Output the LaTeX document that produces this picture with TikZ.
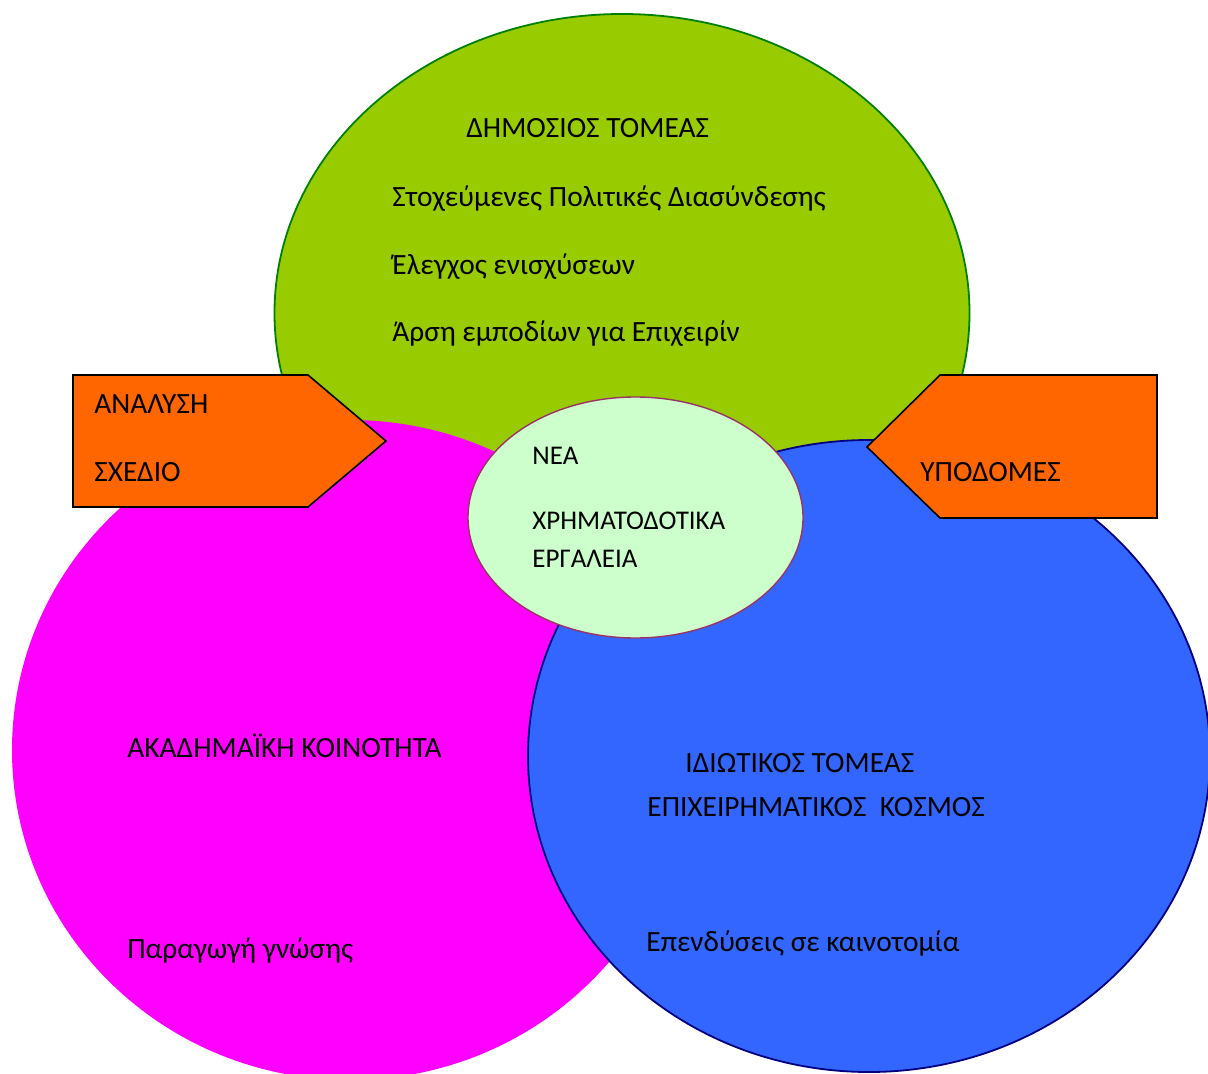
\documentclass[tikz,border=0pt]{standalone}
\usepackage{fontspec}
\setmainfont{Carlito}
\usepackage{tikz}
\usetikzlibrary{shapes.geometric, positioning}
\definecolor{publicgreen}{HTML}{99CC00}
\definecolor{publicedge}{HTML}{008000}
\definecolor{academia}{HTML}{FF00FF}
\definecolor{private}{HTML}{3366FF}
\definecolor{privateedge}{HTML}{000080}
\definecolor{fundfill}{HTML}{CCFFCC}
\definecolor{fundedge}{HTML}{993366}
\definecolor{taborange}{HTML}{FF6600}

\begin{document}
\begin{tikzpicture}[x=0.5pt, y=-0.5pt, every node/.style={font=\fontsize{14.7}{17}\selectfont}]
    % styles
    \tikzstyle{sector} = [ellipse, inner sep=0pt, outer sep=0pt]
    \tikzstyle{txt} = [anchor=base west, inner sep=0pt]
    \tikzstyle{smalltxt} = [txt, font=\fontsize{13.5}{16}\selectfont]
    \tikzstyle{tab} = [fill=taborange, draw=black, line width=0.8pt, line join=miter]

    \useasboundingbox (0,0) rectangle (1208,1074);

    % sectors
    \node (public) [sector, fill=publicgreen, draw=publicedge, line width=0.9pt, minimum width=347.5pt, minimum height=299pt] at (622,313) {};
    \node (academy) [sector, fill=academia, minimum width=338pt, minimum height=330pt] at (350,750) {};
    \node (business) [sector, fill=private, draw=privateedge, line width=0.9pt, minimum width=341pt, minimum height=316pt] at (869,756) {};
    \node (funds) [sector, fill=fundfill, draw=fundedge, line width=0.7pt, minimum width=167.5pt, minimum height=120.5pt] at (635.5,517.5) {};

    % tabs
    \draw [tab] (73,375) -- (308,375) -- (386,441) -- (308,507) -- (73,507) -- cycle;
    \draw [tab] (1157,375) -- (940,375) -- (867,447) -- (940,518) -- (1157,518) -- cycle;

    % public sector
    \node (pubtitle) [txt] at (466,138) {ΔΗΜΟΣΙΟΣ ΤΟΜΕΑΣ};
    \node (pubone) [txt] at (392,207) {Στοχεύμενες Πολιτικές Διασύνδεσης};
    \node (pubtwo) [txt] at (392,275) {Έλεγχος ενισχύσεων};
    \node (pubthree) [txt] at (392,342) {Άρση εμποδίων για Επιχειρίν};

    % tabs text
    \node (analysis) [txt] at (94,414) {ΑΝΑΛΥΣΗ};
    \node (plan) [txt] at (94,481) {ΣΧΕΔΙΟ};
    \node (infra) [txt] at (920,481) {ΥΠΟΔΟΜΕΣ};

    % new funding tools
    \node (fundone) [smalltxt] at (532,465) {ΝΕΑ};
    \node (fundtwo) [smalltxt] at (532,529) {ΧΡΗΜΑΤΟΔΟΤΙΚΑ};
    \node (fundthree) [smalltxt] at (532,567) {ΕΡΓΑΛΕΙΑ};

    % academia
    \node (acadtitle) [txt] at (127,757) {ΑΚΑΔΗΜΑΪΚΗ ΚΟΙΝΟΤΗΤΑ};
    \node (acadone) [txt] at (127,958) {Παραγωγή γνώσης};

    % private sector
    \node (privtitle) [txt] at (685,772) {ΙΔΙΩΤΙΚΟΣ ΤΟΜΕΑΣ};
    \node (privsub) [txt] at (647,816) {ΕΠΙΧΕΙΡΗΜΑΤΙΚΟΣ\ \ ΚΟΣΜΟΣ};
    \node (privone) [txt] at (646,951) {Επενδύσεις σε καινοτομία};
\end{tikzpicture}
\end{document}
